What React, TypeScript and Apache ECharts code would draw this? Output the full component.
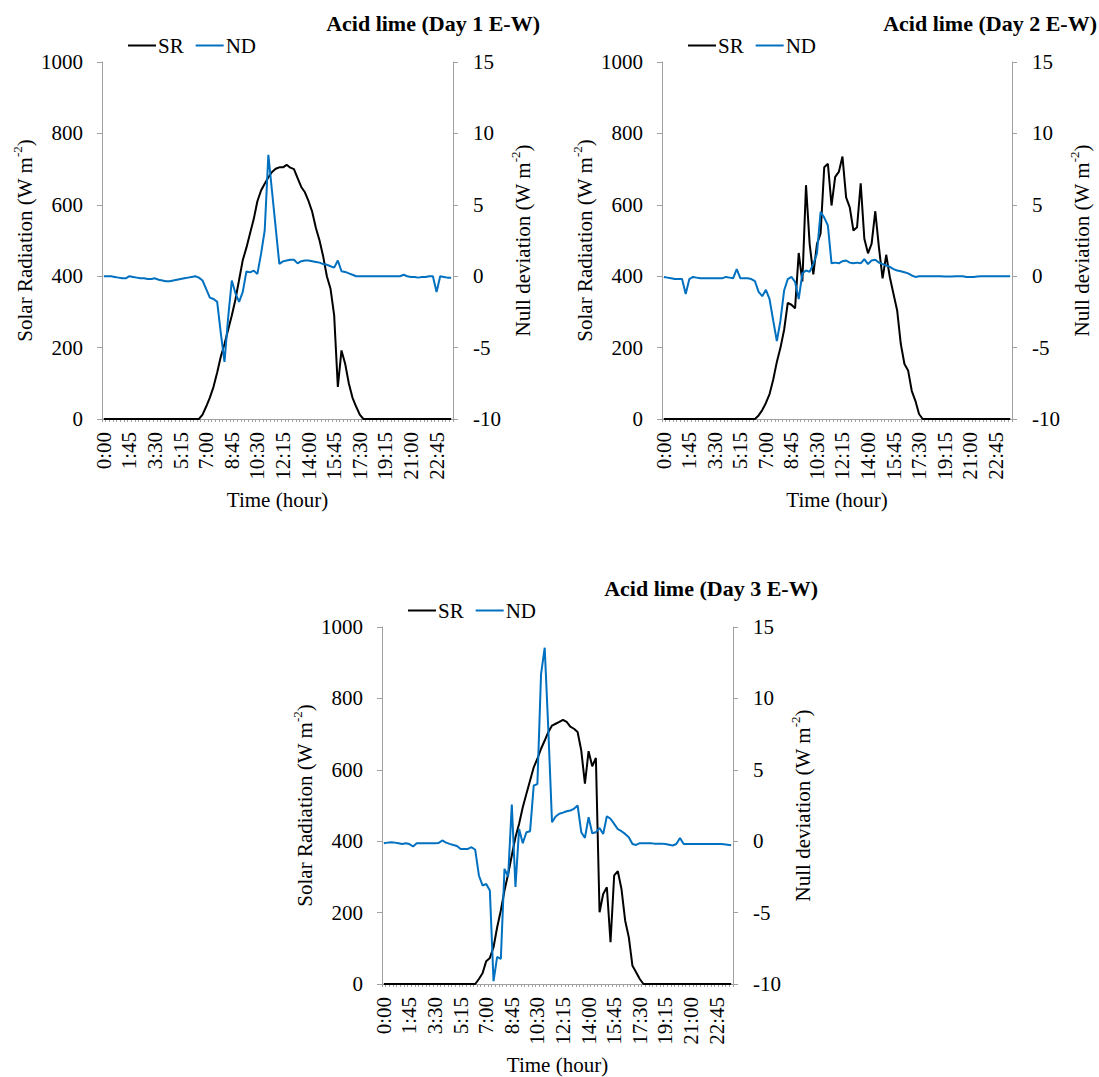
import React, { useEffect, useRef } from "react";
import * as echarts from "echarts";

const FONT = "Liberation Serif";

const times: string[] = [
  "0:00","0:15","0:30","0:45","1:00","1:15","1:30","1:45","2:00","2:15","2:30","2:45",
  "3:00","3:15","3:30","3:45","4:00","4:15","4:30","4:45","5:00","5:15","5:30","5:45",
  "6:00","6:15","6:30","6:45","7:00","7:15","7:30","7:45","8:00","8:15","8:30","8:45",
  "9:00","9:15","9:30","9:45","10:00","10:15","10:30","10:45","11:00","11:15","11:30","11:45",
  "12:00","12:15","12:30","12:45","13:00","13:15","13:30","13:45","14:00","14:15","14:30","14:45",
  "15:00","15:15","15:30","15:45","16:00","16:15","16:30","16:45","17:00","17:15","17:30","17:45",
  "18:00","18:15","18:30","18:45","19:00","19:15","19:30","19:45","20:00","20:15","20:30","20:45",
  "21:00","21:15","21:30","21:45","22:00","22:15","22:30","22:45","23:00","23:15","23:30","23:45",
];

const titles: string[] = [
  "Acid lime (Day 1 E-W)",
  "Acid lime (Day 2 E-W)",
  "Acid lime (Day 3 E-W)",
];

const srTicks = { min: 0, max: 1000, interval: 200 };
const ndTicks = { min: -10, max: 15, interval: 5 };

// Solar radiation (W m-2), day 1
const sr1: number[] = [
  0,0,0,0,0,0,0,0,0,0,0,0,0,0,0,0,0,0,0,0,0,0,0,0,0,0,0,
  12,35,60,90,130,175,210,250,290,335,390,445,480,520,560,610,640,659,677,692,701,705,705,712,
  704,700,675,650,635,610,580,535,500,455,400,365,290,90,192,155,100,60,35,12,
  0,0,0,0,0,0,0,0,0,0,0,0,0,0,0,0,0,0,0,0,0,0,0,0,0,
];
// Null deviation (W m-2), day 1
const nd1: number[] = [
  0,0,0,-0.05,-0.1,-0.15,-0.15,0,-0.05,-0.1,
  -0.15,-0.15,-0.2,-0.2,-0.15,-0.25,-0.3,-0.35,-0.35,-0.3,
  -0.25,-0.2,-0.15,-0.1,-0.05,0,-0.1,-0.3,-0.9,-1.5,
  -1.6,-1.8,-4.0,-6.0,-2.9,-0.3,-1.2,-1.8,-1.1,0.34,
  0.27,0.39,0.16,1.56,3.2,8.5,5.95,3.4,0.86,1.04,
  1.1,1.15,1.15,0.9,1.05,1.1,1.1,1.05,1.0,0.95,
  0.85,0.8,0.7,0.6,1.1,0.35,0.3,0.2,0.1,0,
  0,0,0,0,0,0,0,0,0,0,0,0,
  0.1,0,-0.05,-0.05,-0.1,-0.05,-0.05,0,0,-1.1,0,-0.05,-0.1,-0.1,
];

// day 2
const sr2: number[] = [
  0,0,0,0,0,0,0,0,0,0,0,0,0,0,0,0,0,0,0,0,0,0,0,0,0,0,
  10,25,45,70,110,160,200,250,325,320,310,465,385,655,490,405,490,520,705,715,
  598,678,692,735,621,593,528,537,660,505,464,491,582,481,394,460,397,350,304,210,
  154,136,79,51,14,
  0,0,0,0,0,0,0,0,0,0,0,0,0,0,0,0,0,0,0,0,0,0,0,0,0,
];
const nd2: number[] = [
  -0.05,-0.1,-0.15,-0.2,-0.2,-0.2,-1.25,-0.2,-0.05,-0.1,
  -0.15,-0.15,-0.15,-0.15,-0.15,-0.15,-0.15,-0.05,-0.1,-0.15,
  0.5,-0.15,-0.15,-0.15,-0.2,-0.35,-1.1,-1.4,-0.95,-1.6,
  -3.1,-4.55,-3.1,-1.0,-0.2,-0.05,-0.4,-1.6,0.2,0.4,
  0.3,0.85,1.6,4.5,4.1,3.55,0.9,0.95,0.9,1.05,
  1.1,0.95,0.9,0.95,0.9,1.2,0.85,1.1,1.15,0.95,
  0.85,0.75,0.65,0.5,0.4,0.35,0.28,0.2,0.05,-0.05,
  0,0,0,0,0,0,0,-0.02,-0.02,-0.02,0,0,0,-0.05,-0.05,-0.05,-0.02,0,0,0,0,0,0,0,0,0,
];

// day 3
const sr3: number[] = [
  0,0,0,0,0,0,0,0,0,0,0,0,0,0,0,0,0,0,0,0,0,0,0,0,0,0,
  14,30,64,73,103,159,206,262,308,360,411,449,495,533,570,607,631,659,682,706,
  724,729,734,740,734,721,715,706,654,561,652,610,633,201,252,271,117,304,316,266,
  178,131,51,33,14,
  0,0,0,0,0,0,0,0,0,0,0,0,0,0,0,0,0,0,0,0,0,0,0,0,0,
];
const nd3: number[] = [
  -0.14,-0.1,-0.07,-0.1,-0.15,-0.2,-0.14,-0.2,-0.37,-0.15,
  -0.14,-0.15,-0.15,-0.14,-0.15,-0.12,0.05,-0.1,-0.19,-0.27,
  -0.33,-0.54,-0.54,-0.54,-0.42,-0.6,-2.4,-3.1,-3.0,-3.46,
  -9.8,-8.1,-8.25,-1.94,-2.48,2.57,-3.2,0.86,-0.14,0.63,
  0.7,3.9,4.0,11.7,13.55,7.76,1.33,1.73,1.92,2.0,
  2.1,2.15,2.27,2.5,0.63,0.23,1.68,0.56,0.63,0.93,
  0.51,1.75,1.57,1.21,0.84,0.7,0.51,0.28,-0.19,-0.26,
  -0.14,-0.15,-0.15,-0.15,-0.17,-0.17,-0.17,-0.2,-0.25,-0.3,
  -0.2,0.23,-0.19,-0.2,-0.2,-0.2,-0.2,-0.2,-0.2,-0.2,-0.2,-0.2,-0.2,-0.22,-0.25,-0.28,
];

const srSeries = [sr1, sr2, sr3];
const ndSeries = [nd1, nd2, nd3];

const SR_COLOR = "#000000";
const ND_COLOR = "#0070C0";
const AXIS_COLOR = "#A0A0A0";

const layout = [
  { left: 102, top: 62, width: 351, height: 357, titleRight: 559, titleTop: 12, legendLeft: 128, legendTop: 35 },
  { left: 662, top: 62, width: 350, height: 357, titleRight: 2, titleTop: 12, legendLeft: 688, legendTop: 35 },
  { left: 382, top: 627, width: 351, height: 357, titleRight: 281, titleTop: 577, legendLeft: 408, legendTop: 600 },
];

const baseText = { fontFamily: FONT, color: "#000", fontSize: 21 };

function nameStyle() {
  return {
    ...baseText,
    rich: {
      a: { ...baseText, verticalAlign: "bottom", lineHeight: 24 },
      s: { ...baseText, fontSize: 13, verticalAlign: "bottom", padding: [0, 0, 11, 0] },
    },
  };
}

const plain = (v: number) => String(v);

function buildOption() {
  const title: any[] = [];
  const legend: any[] = [];
  const grid: any[] = [];
  const xAxis: any[] = [];
  const yAxis: any[] = [];
  const series: any[] = [];
  layout.forEach((p, k) => {
    title.push({
      text: titles[k],
      right: p.titleRight,
      top: p.titleTop,
      padding: 0,
      textStyle: { fontFamily: FONT, color: "#000", fontSize: 22, fontWeight: "bold" },
    });
    legend.push({
      data: ["SR", "ND"],
      left: p.legendLeft,
      top: p.legendTop,
      padding: 0,
      icon: "rect",
      itemWidth: 28,
      itemHeight: 2,
      itemGap: 12,
      selectedMode: false,
      textStyle: { ...baseText, padding: [0, 0, 0, -3] },
    });
    grid.push({
      left: p.left,
      top: p.top,
      width: p.width,
      height: p.height,
      containLabel: false,
      outerBoundsMode: "none",
    });
    xAxis.push({
      type: "category",
      gridIndex: k,
      data: times,
      boundaryGap: true,
      name: "Time (hour)",
      nameLocation: "middle",
      nameGap: 70,
      nameTextStyle: { ...baseText },
      axisLine: { show: true, onZero: false, lineStyle: { color: AXIS_COLOR, width: 1 } },
      axisTick: { show: true, interval: 0, length: 3, lineStyle: { color: AXIS_COLOR } },
      axisLabel: { ...baseText, interval: 6, rotate: 90, margin: 13, hideOverlap: false },
      splitLine: { show: false },
    });
    yAxis.push({
      type: "value",
      gridIndex: k,
      position: "left",
      ...srTicks,
      name: "{a|Solar Radiation (W m}{s|-2}{a|)}",
      nameLocation: "middle",
      nameRotate: 90,
      nameGap: 67,
      nameTextStyle: nameStyle(),
      axisLine: { show: true, lineStyle: { color: AXIS_COLOR, width: 1 } },
      axisTick: { show: true, length: 5, lineStyle: { color: AXIS_COLOR } },
      axisLabel: { ...baseText, margin: 19, formatter: plain },
      splitLine: { show: false },
    });
    yAxis.push({
      type: "value",
      gridIndex: k,
      position: "right",
      ...ndTicks,
      name: "{a|Null deviation (W m}{s|-2}{a|)}",
      nameLocation: "middle",
      nameRotate: 90,
      nameGap: 56,
      nameTextStyle: nameStyle(),
      axisLine: { show: true, lineStyle: { color: AXIS_COLOR, width: 1 } },
      axisTick: { show: true, length: 5, lineStyle: { color: AXIS_COLOR } },
      axisLabel: { ...baseText, margin: 20, formatter: plain },
      splitLine: { show: false },
    });
    series.push({
      name: "SR",
      type: "line",
      xAxisIndex: k,
      yAxisIndex: 2 * k,
      data: srSeries[k],
      showSymbol: false,
      symbol: "none",
      color: SR_COLOR,
      lineStyle: { color: SR_COLOR, width: 2 },
      z: 2,
    });
    series.push({
      name: "ND",
      type: "line",
      xAxisIndex: k,
      yAxisIndex: 2 * k + 1,
      data: ndSeries[k],
      showSymbol: false,
      symbol: "none",
      color: ND_COLOR,
      lineStyle: { color: ND_COLOR, width: 2 },
      z: 3,
    });
  });
  return {
    animation: false,
    backgroundColor: "#fff",
    textStyle: { fontFamily: FONT },
    title,
    legend,
    grid,
    xAxis,
    yAxis,
    series,
  };
}

export default function App() {
  const ref = useRef<HTMLDivElement>(null);
  useEffect(() => {
    if (!ref.current) return;
    const chart = echarts.init(ref.current, undefined, { renderer: "svg" });
    chart.setOption(buildOption() as any);
    return () => chart.dispose();
  }, []);
  return (
    <div
      ref={ref}
      style={{ position: "absolute", left: 0, top: 0, width: 1099, height: 1077, background: "#fff" }}
    />
  );
}
